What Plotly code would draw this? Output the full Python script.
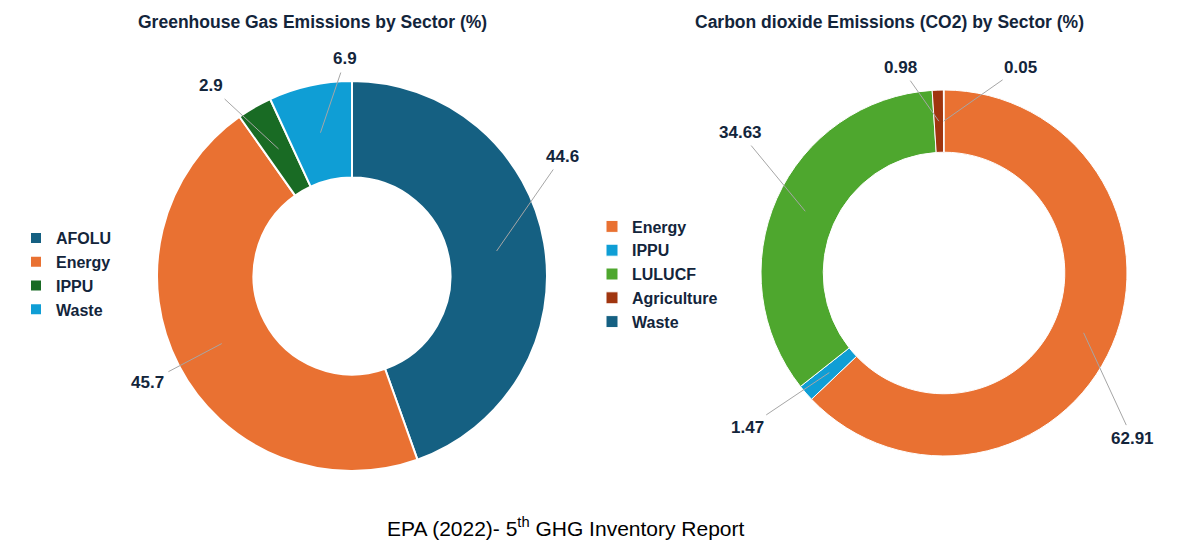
import math
import plotly.graph_objects as go

# ---------------- data ----------------
ghg_title = "Greenhouse Gas Emissions by Sector (%)"
ghg_labels = ["AFOLU", "Energy", "IPPU", "Waste"]
ghg_values = [44.6, 45.7, 2.9, 6.9]
ghg_text = ["44.6", "45.7", "2.9", "6.9"]

co2_title = "Carbon dioxide Emissions (CO2) by Sector (%)"
co2_labels = ["Energy", "IPPU", "LULUCF", "Agriculture", "Waste"]
co2_values = [62.91, 1.47, 34.63, 0.98, 0.05]
co2_text = ["62.91", "1.47", "34.63", "0.98", "0.05"]

footer = "EPA (2022)- 5<sup>th</sup> GHG Inventory Report"

# ---------------- styles / layout ----------------
W, H = 1200, 549
TEXT = "#13253B"
FONT = "Liberation Sans, Arial, sans-serif"
ghg_colors = ["#156082", "#E97132", "#196B24", "#0F9ED5"]
co2_colors = ["#E97132", "#0F9ED5", "#4EA72E", "#A0350F", "#156082"]

# pie geometry in pixels (centre x, centre y, radius, hole fraction)
ghg_geo = dict(cx=352, cy=276, r=195, hole=0.505)
co2_geo = dict(cx=944, cy=273, r=183, hole=0.66)

# label offsets (pixels, from the slice anchor to the label centre)
ghg_offsets = [(66, -95), (-74, 39), (-68, -63), (25, -74)]
co2_offsets = [(49, 106), (-82, 55), (-65, -79), (-38, -54), (77, -54)]


def domain(g):
    x0 = (g["cx"] - g["r"]) / W
    x1 = (g["cx"] + g["r"]) / W
    y0 = 1 - (g["cy"] + g["r"]) / H
    y1 = 1 - (g["cy"] - g["r"]) / H
    return dict(x=[x0, x1], y=[y0, y1])


# the two charts keep separate legends, so make their label keys distinct
co2_keys = [lab + "\u200b" for lab in co2_labels]

fig = go.Figure()
fig.add_trace(go.Pie(
    labels=ghg_labels, values=ghg_values, hole=ghg_geo["hole"],
    sort=False, direction="clockwise", rotation=0,
    marker=dict(colors=ghg_colors, line=dict(color="white", width=2)),
    textinfo="none", hoverinfo="label+value", domain=domain(ghg_geo),
    legend="legend", showlegend=True,
))
fig.add_trace(go.Pie(
    labels=co2_keys, values=co2_values, hole=co2_geo["hole"],
    sort=False, direction="clockwise", rotation=0,
    marker=dict(colors=co2_colors, line=dict(color="white", width=1)),
    textinfo="none", hoverinfo="label+value", domain=domain(co2_geo),
    legend="legend2", showlegend=True,
))

annotations = []


def add_labels(values, texts, g, offsets):
    total = sum(values)
    cum = 0.0
    rr = g["r"] * (1 + g["hole"]) / 2
    for v, t, (dx, dy) in zip(values, texts, offsets):
        th = 2 * math.pi * (cum + v / 2) / total
        cum += v
        px = g["cx"] + rr * math.sin(th)
        py = g["cy"] - rr * math.cos(th)
        annotations.append(dict(
            x=px / W, y=1 - py / H, xref="paper", yref="paper",
            text="<b>%s</b>" % t, showarrow=True, arrowhead=0,
            arrowwidth=1, arrowcolor="#A6A6A6", ax=dx, ay=dy,
            standoff=0, startstandoff=3,
            font=dict(family=FONT, size=17, color=TEXT),
        ))


add_labels(ghg_values, ghg_text, ghg_geo, ghg_offsets)
add_labels(co2_values, co2_text, co2_geo, co2_offsets)

common = dict(xref="paper", yref="paper", showarrow=False,
              xanchor="center", yanchor="middle")
annotations += [
    dict(x=312 / W, y=1 - 22 / H, text="<b>%s</b>" % ghg_title,
         font=dict(family=FONT, size=17.5, color=TEXT), **common),
    dict(x=889 / W, y=1 - 22 / H, text="<b>%s</b>" % co2_title,
         font=dict(family=FONT, size=17.5, color=TEXT), **common),
    dict(x=566 / W, y=1 - 527 / H, text=footer,
         font=dict(family=FONT, size=21, color="#000000"), **common),
]

legend_style = dict(font=dict(family=FONT, size=16, color=TEXT, weight="bold"),
                    bgcolor="rgba(0,0,0,0)", itemwidth=30, xanchor="left",
                    yanchor="middle", traceorder="normal")
fig.update_layout(
    width=W, height=H, margin=dict(l=0, r=0, t=0, b=0),
    paper_bgcolor="white", plot_bgcolor="white",
    annotations=annotations,
    legend=dict(x=16 / W, y=1 - 274 / H, **legend_style),
    legend2=dict(x=592 / W, y=1 - 274 / H, **legend_style),
)

fig.write_html("out.html", config={"displayModeBar": False},
               post_script="document.body.style.margin='0';")
